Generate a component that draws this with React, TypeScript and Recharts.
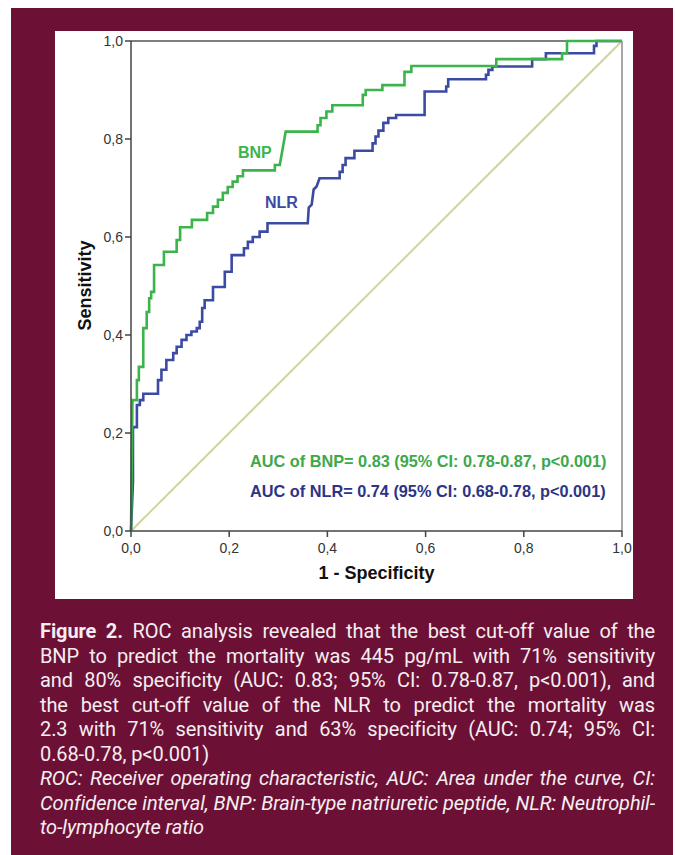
import React from 'react';
import { LineChart, Line, XAxis, YAxis, ReferenceLine } from 'recharts';

// ROC vertices: [1 - specificity, sensitivity]
const bnpRoc: [number, number][] = [
  [0, 0], [0.003, 0.267], [0.012, 0.267], [0.012, 0.308], [0.016, 0.308], [0.016, 0.335],
  [0.025, 0.335], [0.025, 0.414], [0.032, 0.414], [0.032, 0.447], [0.037, 0.447], [0.037, 0.475],
  [0.041, 0.475], [0.041, 0.488], [0.047, 0.488], [0.047, 0.543], [0.067, 0.543], [0.067, 0.57],
  [0.093, 0.57], [0.093, 0.594], [0.1, 0.594], [0.1, 0.62], [0.124, 0.62], [0.124, 0.635],
  [0.155, 0.635], [0.155, 0.649], [0.167, 0.649], [0.167, 0.662], [0.177, 0.662], [0.177, 0.676],
  [0.187, 0.676], [0.187, 0.69], [0.197, 0.69], [0.197, 0.702], [0.207, 0.702], [0.207, 0.713],
  [0.217, 0.713], [0.217, 0.724], [0.228, 0.724], [0.228, 0.736], [0.293, 0.736], [0.293, 0.747],
  [0.303, 0.747], [0.315, 0.815], [0.38, 0.815], [0.38, 0.828], [0.386, 0.828], [0.386, 0.843],
  [0.398, 0.843], [0.398, 0.856], [0.41, 0.856], [0.41, 0.869], [0.472, 0.869], [0.472, 0.89],
  [0.478, 0.89], [0.478, 0.9], [0.512, 0.9], [0.512, 0.91], [0.557, 0.91], [0.557, 0.937],
  [0.571, 0.937], [0.571, 0.949], [0.744, 0.949], [0.744, 0.963], [0.878, 0.963], [0.878, 0.975],
  [0.888, 0.975], [0.888, 1], [1, 1],
];

const nlrRoc: [number, number][] = [
  [0, 0], [0.004, 0.1], [0.004, 0.212], [0.012, 0.212], [0.012, 0.257], [0.018, 0.257],
  [0.018, 0.267], [0.025, 0.267], [0.025, 0.28], [0.055, 0.28], [0.055, 0.308], [0.062, 0.308],
  [0.062, 0.329], [0.072, 0.329], [0.072, 0.349], [0.086, 0.349], [0.086, 0.363], [0.093, 0.363],
  [0.093, 0.376], [0.103, 0.376], [0.103, 0.39], [0.113, 0.39], [0.113, 0.4], [0.123, 0.4],
  [0.123, 0.407], [0.134, 0.407], [0.134, 0.414], [0.14, 0.414], [0.14, 0.427], [0.145, 0.427],
  [0.145, 0.455], [0.15, 0.455], [0.15, 0.471], [0.167, 0.471], [0.167, 0.498], [0.191, 0.498],
  [0.191, 0.529], [0.205, 0.529], [0.205, 0.563], [0.23, 0.563], [0.23, 0.577], [0.238, 0.577],
  [0.238, 0.59], [0.248, 0.59], [0.248, 0.6], [0.262, 0.6], [0.262, 0.611], [0.278, 0.611],
  [0.278, 0.628], [0.36, 0.628], [0.362, 0.66], [0.368, 0.666], [0.372, 0.697], [0.378, 0.703],
  [0.384, 0.72], [0.425, 0.72], [0.425, 0.733], [0.431, 0.733], [0.431, 0.747], [0.437, 0.747],
  [0.437, 0.761], [0.455, 0.761], [0.455, 0.776], [0.492, 0.776], [0.492, 0.791], [0.498, 0.791],
  [0.498, 0.805], [0.504, 0.805], [0.504, 0.817], [0.514, 0.817], [0.514, 0.833], [0.524, 0.833],
  [0.524, 0.843], [0.54, 0.843], [0.54, 0.849], [0.598, 0.849], [0.598, 0.897], [0.642, 0.897],
  [0.642, 0.907], [0.646, 0.907], [0.646, 0.922], [0.723, 0.922], [0.723, 0.931], [0.728, 0.931],
  [0.728, 0.941], [0.736, 0.941], [0.736, 0.948], [0.817, 0.948], [0.817, 0.963], [0.845, 0.963],
  [0.845, 0.975], [0.943, 0.975], [0.943, 0.99], [0.948, 0.99], [0.948, 1], [1, 1],
];

const chanceLine: [number, number][] = [[0, 0], [1, 1]];
const axisTicks = [0, 0.2, 0.4, 0.6, 0.8, 1];

const aucBnpText = 'AUC of BNP= 0.83 (95% CI: 0.78-0.87, p<0.001)';
const aucNlrText = 'AUC of NLR= 0.74 (95% CI: 0.68-0.78, p<0.001)';

// caption, one entry per printed line; justify = stretch to full width
const captionLines = [
  { bold: 'Figure 2.', text: ' ROC analysis revealed that the best cut-off value of the', justify: true, italic: false },
  { text: 'BNP to predict the mortality was 445 pg/mL with 71% sensitivity', justify: true, italic: false },
  { text: 'and 80% specificity (AUC: 0.83; 95% CI: 0.78-0.87, p<0.001), and', justify: true, italic: false },
  { text: 'the best cut-off value of the NLR to predict the mortality was', justify: true, italic: false },
  { text: '2.3 with 71% sensitivity and 63% specificity (AUC: 0.74; 95% CI:', justify: true, italic: false },
  { text: '0.68-0.78, p<0.001)', justify: false, italic: false },
  { text: 'ROC: Receiver operating characteristic, AUC: Area under the curve, CI:', justify: true, italic: true },
  { text: 'Confidence interval, BNP: Brain-type natriuretic peptide, NLR: Neutrophil-', justify: true, italic: true },
  { text: 'to-lymphocyte ratio', justify: false, italic: true },
];

const toPoints = (pairs: [number, number][]) => pairs.map(([x, y]) => ({ x, y }));
const fmtTick = (v: number) => v.toFixed(1).replace('.', ',');

const MAROON = '#6d1035';
const GREEN = '#3db44b';
const BLUE = '#3b4ba3';
const AXIS_FONT = '"Liberation Sans", Arial, sans-serif';

export default function App() {
  return (
    <div style={{ position: 'absolute', left: 0, top: 0, width: 675, height: 855, background: '#fff', overflow: 'hidden' }}>
      <style>{'body{margin:0}'}</style>
      <div style={{ position: 'absolute', left: 11, top: 8, width: 662, height: 847, background: MAROON }} />

      <div style={{ position: 'absolute', left: 55, top: 31, width: 578, height: 568, background: '#fff' }}>
        <LineChart width={578} height={568} margin={{ top: 10, right: 11, bottom: 0, left: 0 }}>
          <XAxis
            dataKey="x"
            type="number"
            domain={[0, 1]}
            ticks={axisTicks}
            tickFormatter={fmtTick}
            height={68}
            tickSize={6}
            tickMargin={6}
            stroke="#444"
            strokeWidth={1.5}
            tick={{ fill: '#333', fontSize: 14, fontFamily: AXIS_FONT }}
          />
          <YAxis
            dataKey="y"
            type="number"
            domain={[0, 1]}
            ticks={axisTicks}
            tickFormatter={fmtTick}
            width={76}
            tickSize={6}
            tickMargin={2}
            stroke="#444"
            strokeWidth={1.5}
            tick={{ fill: '#333', fontSize: 14, fontFamily: AXIS_FONT }}
          />
          <ReferenceLine y={1} stroke="#555" strokeWidth={1.5} />
          <ReferenceLine x={1} stroke="#8a8a8a" strokeWidth={1.5} />
          <Line
            data={toPoints(chanceLine)}
            dataKey="y"
            type="linear"
            stroke="#d3d49d"
            strokeWidth={2}
            dot={false}
            isAnimationActive={false}
          />
          <Line
            data={toPoints(nlrRoc)}
            dataKey="y"
            type="linear"
            stroke={BLUE}
            strokeWidth={2.6}
            dot={false}
            isAnimationActive={false}
          />
          <Line
            data={toPoints(bnpRoc)}
            dataKey="y"
            type="linear"
            stroke={GREEN}
            strokeWidth={2.6}
            dot={false}
            isAnimationActive={false}
          />
        </LineChart>

        {/* annotations, positioned relative to the white panel */}
        <div style={{ position: 'absolute', left: 183, top: 113, fontFamily: AXIS_FONT, fontWeight: 'bold', fontSize: 16, color: GREEN }}>BNP</div>
        <div style={{ position: 'absolute', left: 210, top: 163, fontFamily: AXIS_FONT, fontWeight: 'bold', fontSize: 16, color: BLUE }}>NLR</div>
        <div style={{ position: 'absolute', left: 195, top: 421, fontFamily: AXIS_FONT, fontWeight: 'bold', fontSize: 16.3, color: '#3ea84a', whiteSpace: 'nowrap' }}>{aucBnpText}</div>
        <div style={{ position: 'absolute', left: 195, top: 451, fontFamily: AXIS_FONT, fontWeight: 'bold', fontSize: 16.3, color: '#2c3486', whiteSpace: 'nowrap' }}>{aucNlrText}</div>
        <div style={{ position: 'absolute', left: 76, width: 491, top: 532, textAlign: 'center', fontFamily: AXIS_FONT, fontWeight: 'bold', fontSize: 18, color: '#111' }}>1 - Specificity</div>
        <div
          style={{
            position: 'absolute',
            left: 30 - 60,
            top: 255 - 11,
            width: 120,
            textAlign: 'center',
            transform: 'rotate(-90deg)',
            fontFamily: AXIS_FONT,
            fontWeight: 'bold',
            fontSize: 18,
            color: '#111',
          }}
        >
          Sensitivity
        </div>
      </div>

      <div style={{ position: 'absolute', left: 40, top: 619, width: 615, fontFamily: 'Roboto, sans-serif', fontSize: 20, lineHeight: '24.5px', color: '#f4eef1' }}>
        {captionLines.map((ln, i) => (
          <div
            key={i}
            style={{
              textAlign: ln.justify ? 'justify' : 'left',
              textAlignLast: ln.justify ? 'justify' : 'left',
              fontStyle: ln.italic ? 'italic' : 'normal',
              letterSpacing: -0.1,
            }}
          >
            {ln.bold && <b style={{ fontWeight: 700 }}>{ln.bold}</b>}
            {ln.text}
          </div>
        ))}
      </div>
    </div>
  );
}
